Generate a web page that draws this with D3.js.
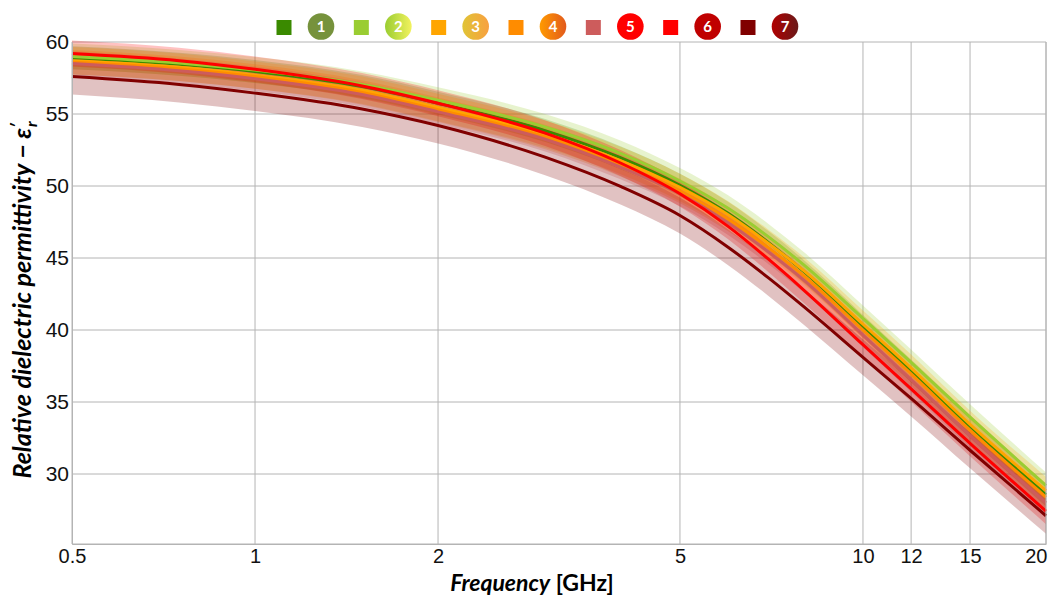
<!DOCTYPE html>
<html lang="en">
<head>
  <meta charset="UTF-8">
  <title>Relative dielectric permittivity</title>
  <style>
    body { margin: 0; background: #fff; }
    svg { display: block; font-family: Lato, "Open Sans", sans-serif; }
    .grid line { stroke: #b4b4b4; stroke-width: 1; }
    .tick text { fill: #111; }
  </style>
</head>
<body>
  <svg id="chart" width="1050" height="597"></svg>
  <script src="https://d3js.org/d3.v7.min.js"></script>
  <script>
    // frequencies (GHz) at which the curves were read
    const freqs = [0.5, 0.75, 1, 1.5, 2, 3, 4, 5, 6, 7, 8, 10, 12, 15, 20];

    const s1 = [58.9, 58.45, 57.95, 56.9, 55.75, 53.85, 51.95, 50.05, 48.1, 46.05, 44.05, 40.25, 37.15, 33.3, 28.55];
    const s2 = [59.0, 58.55, 58.05, 57.05, 55.95, 54.1, 52.25, 50.35, 48.45, 46.45, 44.5, 40.8, 37.75, 33.95, 29.2];
    const s3 = [58.7, 58.25, 57.7, 56.65, 55.45, 53.6, 51.75, 49.9, 48.0, 46.0, 44.1, 40.4, 37.35, 33.45, 28.85];
    const s4 = [58.6, 58.15, 57.6, 56.5, 55.3, 53.4, 51.5, 49.65, 47.7, 45.7, 43.75, 40.0, 36.95, 33.05, 28.4];
    const s5 = [58.5, 58.0, 57.45, 56.35, 55.15, 53.25, 51.3, 49.45, 47.45, 45.4, 43.45, 39.65, 36.55, 32.65, 28.0];
    const s6 = [59.2, 58.7, 58.1, 56.95, 55.75, 53.67, 51.58, 49.46, 47.2, 44.9, 42.76, 38.98, 35.91, 32.13, 27.42];
    const s7 = [57.6, 57.05, 56.45, 55.35, 54.2, 52.0, 49.95, 47.95, 45.75, 43.6, 41.6, 38.1, 35.25, 31.65, 27.1];

    const seriesNames = ["1", "2", "3", "4", "5", "6", "7"];
    const seriesValues = [s1, s2, s3, s4, s5, s6, s7];
    const bandHalfWidths = [0.8, 0.9, 0.95, 0.85, 0.85, 0.9, 1.25];

    const lineColors = ["#3a8a00", "#9acd32", "#ffa500", "#ff8c00", "#cd5c5c", "#ff0000", "#800000"];
    const badgeStart = ["#76923c", "#9acd32", "#e0c435", "#ff9a00", "#ff0000", "#c00000", "#b00000"];
    const badgeEnd = ["#76923c", "#f2f25e", "#f8a040", "#e25a1c", "#ff0000", "#c00000", "#6a1a1a"];

    const xTicks = [0.5, 1, 2, 5, 10, 12, 15, 20];
    const yTicks = [30, 35, 40, 45, 50, 55, 60];

    const margin = { top: 42, right: 4, bottom: 53, left: 72 };
    const width = 1050, height = 597;
    const svg = d3.select("#chart");

    const x = d3.scaleLog().domain([0.5, 20]).range([margin.left, width - margin.right]);
    const y = d3.scaleLinear().domain([25.14, 60]).range([height - margin.bottom, margin.top]);

    // grid
    const grid = svg.append("g").attr("class", "grid");
    grid.selectAll(".vx").data(xTicks).join("line")
      .attr("x1", d => x(d)).attr("x2", d => x(d))
      .attr("y1", y.range()[1]).attr("y2", y.range()[0]);
    grid.selectAll(".hy").data(yTicks.concat([25.14])).join("line")
      .attr("x1", x.range()[0]).attr("x2", x.range()[1])
      .attr("y1", d => y(d)).attr("y2", d => y(d));

    // bands then lines
    const area = (vals, hw) => d3.area()
      .x((d, i) => x(freqs[i]))
      .y0((d, i) => y(vals[i] - hw))
      .y1((d, i) => y(vals[i] + hw))
      .curve(d3.curveMonotoneX)(vals);

    const line = d3.line()
      .x((d, i) => x(freqs[i]))
      .y(d => y(d))
      .curve(d3.curveMonotoneX);

    const plot = svg.append("g");
    plot.selectAll(".band").data(seriesValues).join("path")
      .attr("class", "band")
      .attr("d", (vals, k) => area(vals, bandHalfWidths[k]))
      .attr("fill", (d, k) => lineColors[k])
      .attr("fill-opacity", 0.24);

    const lineOrder = [0, 1, 2, 3, 4, 6, 5];
    plot.selectAll(".curve").data(lineOrder).join("path")
      .attr("class", "curve")
      .attr("d", k => line(seriesValues[k]))
      .attr("fill", "none")
      .attr("stroke", k => lineColors[k])
      .attr("stroke-width", 3);

    // axes
    svg.append("g")
      .attr("transform", `translate(0,${y.range()[0]})`)
      .call(d3.axisBottom(x).tickValues(xTicks).tickFormat(d3.format("")).tickSize(0).tickPadding(5))
      .call(g => g.select(".domain").attr("stroke", "#b4b4b4"))
      .call(g => g.selectAll(".tick text").attr("font-size", 20))
      .call(g => g.selectAll(".tick").filter(d => d === 20).select("text")
        .attr("text-anchor", "end").attr("x", 1));

    svg.append("g")
      .attr("transform", `translate(${x.range()[0]},0)`)
      .call(d3.axisLeft(y).tickValues(yTicks).tickSize(0).tickPadding(3))
      .call(g => g.select(".domain").attr("stroke", "#b4b4b4"))
      .selectAll("text").attr("font-size", 21);

    // right border
    svg.append("line")
      .attr("x1", x.range()[1]).attr("x2", x.range()[1])
      .attr("y1", y.range()[1]).attr("y2", y.range()[0])
      .attr("stroke", "#b4b4b4");

    // axis titles
    const xt = svg.append("text")
      .attr("x", 532).attr("y", 591)
      .attr("text-anchor", "middle")
      .attr("font-size", 23).attr("font-weight", "bold");
    xt.append("tspan").attr("font-style", "italic").text("Frequency");
    xt.append("tspan").text(" [GHz]");

    const yt = svg.append("text")
      .attr("transform", "translate(31,300) rotate(-90)")
      .attr("text-anchor", "middle")
      .attr("font-size", 25).attr("font-weight", "bold").attr("font-style", "italic");
    yt.append("tspan").text("Relative dielectric permittivity \u2212 ");
    yt.append("tspan").text("\u03b5");
    yt.append("tspan").attr("font-size", 16).attr("dy", -9).text("\u2032");
    yt.append("tspan").attr("font-size", 16).attr("dy", 15).attr("dx", -4).text("r");

    // legend
    const defs = svg.append("defs");
    seriesNames.forEach((n, k) => {
      const g = defs.append("linearGradient").attr("id", "badge" + k);
      g.append("stop").attr("offset", "0%").attr("stop-color", badgeStart[k]);
      g.append("stop").attr("offset", "100%").attr("stop-color", badgeEnd[k]);
    });
    const lx = d3.scaleLinear().domain([0, 6]).range([284, 748]);
    const legend = svg.append("g").selectAll("g").data(seriesNames).join("g")
      .attr("transform", (d, k) => `translate(${lx(k)},28)`);
    legend.append("rect")
      .attr("x", -7.5).attr("y", -8).attr("width", 15).attr("height", 15)
      .attr("fill", (d, k) => lineColors[k]);
    legend.append("circle")
      .attr("cx", 37).attr("cy", -1.5).attr("r", 13.3)
      .attr("fill", (d, k) => `url(#badge${k})`);
    legend.append("text")
      .attr("x", 37).attr("y", 4)
      .attr("text-anchor", "middle")
      .attr("fill", "#fff").attr("font-size", 15).attr("font-weight", "bold")
      .text(d => d);
  </script>
</body>
</html>
